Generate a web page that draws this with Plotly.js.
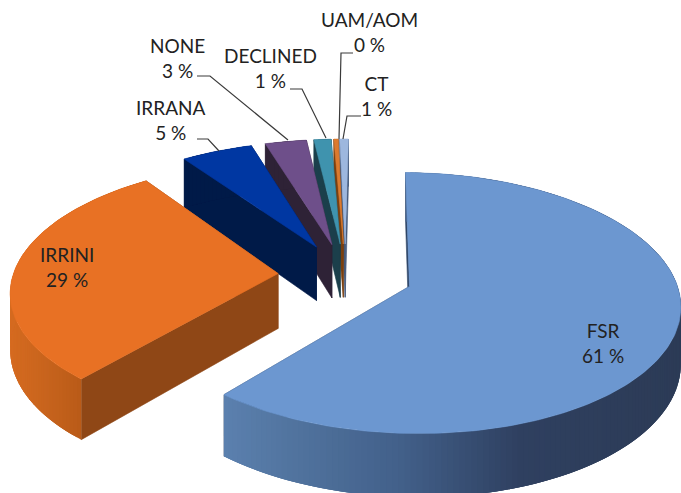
<!DOCTYPE html>
<html>
<head>
<meta charset="utf-8">
<script src="https://cdn.plot.ly/plotly-3.0.1.min.js"></script>
<style>html,body{margin:0;padding:0;background:#fff}#chart{width:681px;height:493px}</style>
</head>
<body>
<div id="chart"></div>
<script>
// Data
const categories = ["FSR", "IRRINI", "IRRANA", "NONE", "DECLINED", "UAM/AOM", "CT"];
const shares = [61, 29, 5, 2.9, 1.2, 0.3, 0.6];

// Style
const topColors = ["#6C97D0", "#E87124", "#0037A2", "#6E4F8A", "#3F93AE", "#DB7A2F", "#9DB7DE"];
const sideColors = ["#2F4668", "#8F4716", "#001A48", "#2E2236", "#1B3F4B", "#7A4010", "#44597A"];
const wallStops = {
  0: [[225, [91, 128, 174]], [300, [80, 114, 157]], [400, [66, 96, 138]], [520, [47, 64, 96]], [681, [44, 59, 86]]],
  1: [[9, [214, 107, 32]], [45, [200, 100, 29]], [82, [185, 90, 24]]]
};
const labelPos = [[603, 343], [67, 267], [170, 120], [177, 58], [270, 68], [369, 32], [376, 96]];
const leaders = [
  null, null,
  [[197, 139], [208, 139], [219, 151]],
  [[197, 76], [210, 76], [288, 140]],
  [[290, 89], [302, 89], [326, 138]],
  [[339, 139], [341, 53], [353, 53]],
  [[343, 139], [347, 116], [361, 116]]
];

// Projection of the pie plane onto the picture
const CX = 345.5, CY = 275, A = 265, B = 125.5, K = 0.126, DEPTH = 55, EXPLODE = 0.255;
const ROTATION = 0.8 * Math.PI / 180;
function project(u, v, down) {
  const d = 1 - K * v;
  return [CX + A * u / d, CY + (B * v + (down ? DEPTH : 0)) / d];
}
function dir(a) { return [Math.sin(a), -Math.cos(a)]; }
function stopColor(stops, x) {
  if (x <= stops[0][0]) return stops[0][1];
  for (let i = 1; i < stops.length; i++) {
    if (x <= stops[i][0]) {
      const t = (x - stops[i - 1][0]) / (stops[i][0] - stops[i - 1][0]);
      return stops[i][1].map((c, j) => Math.round(c + (stops[i - 1][1][j] - c) * (1 - t)));
    }
  }
  return stops[stops.length - 1][1];
}
function poly(pts, color, edge) {
  return {
    type: "scatter", mode: "lines", x: pts.map(p => p[0]).concat(pts[0][0]), y: pts.map(p => p[1]).concat(pts[0][1]),
    fill: "toself", fillcolor: color, line: { color: color, width: edge === undefined ? 0.6 : edge },
    hoverinfo: "skip", showlegend: false
  };
}

const total = shares.reduce((a, b) => a + b, 0);
const slices = [];
let cum = 0;
shares.forEach((s, i) => {
  const a0 = ROTATION + cum / total * 2 * Math.PI;
  cum += s;
  slices.push({ i, a0, a1: ROTATION + cum / total * 2 * Math.PI });
});

const traces = [];
// back slices are painted first
slices.slice().reverse().forEach(({ i, a0, a1 }) => {
  const [ex, ey] = dir((a0 + a1) / 2);
  const ox = ex * EXPLODE, oy = ey * EXPLODE;
  const steps = Math.max(3, Math.round((a1 - a0) / 0.02));
  const at = (a, down) => { const [x, y] = dir(a); return project(ox + x, oy + y, down); };
  const apex = project(ox, oy, false), apexD = project(ox, oy, true);

  // radial walls
  traces.push(poly([apex, at(a1, false), at(a1, true), apexD], sideColors[i]));
  traces.push(poly([apex, at(a0, false), at(a0, true), apexD], sideColors[i]));
  // outer wall, in narrow overlapping strips so that it can be shaded without seams
  for (let k = 0; k < steps; k++) {
    const b0 = a0 + (a1 - a0) * k / steps;
    const b1 = a0 + (a1 - a0) * (k + 1) / steps;
    const b2 = a0 + (a1 - a0) * Math.min(steps, k + 3) / steps;
    const mid = at(b0 + (b1 - b0) / 2, false);
    const stops = wallStops[i];
    const col = stops ? "rgb(" + stopColor(stops, mid[0]).join(",") + ")" : sideColors[i];
    const pts = [];
    for (let j = 0; j <= 4; j++) pts.push(at(b0 + (b2 - b0) * j / 4, false));
    for (let j = 4; j >= 0; j--) pts.push(at(b0 + (b2 - b0) * j / 4, true));
    traces.push(poly(pts, col, 0));
  }
  // top face
  const face = [apex];
  for (let k = 0; k <= steps; k++) face.push(at(a0 + (a1 - a0) * k / steps, false));
  traces.push(poly(face, topColors[i]));
});

leaders.forEach(pts => {
  if (!pts) return;
  traces.push({
    type: "scatter", mode: "lines", x: pts.map(p => p[0]), y: pts.map(p => p[1]),
    line: { color: "#3A3A3A", width: 1.2 }, hoverinfo: "skip", showlegend: false
  });
});

const annotations = categories.map((c, i) => ({
  x: labelPos[i][0], y: labelPos[i][1], xref: "x", yref: "y", showarrow: false,
  text: c + "<br>" + Math.round(shares[i]) + " %", align: "center",
  font: { family: "Lato", size: 19, color: "#222222" }
}));

Plotly.newPlot("chart", traces, {
  width: 681, height: 493, margin: { l: 0, r: 0, t: 0, b: 0 },
  paper_bgcolor: "#ffffff", plot_bgcolor: "#ffffff", showlegend: false,
  xaxis: { range: [0, 681], visible: false, fixedrange: true },
  yaxis: { range: [493, 0], visible: false, fixedrange: true },
  annotations
}, { displayModeBar: false });
</script>
</body>
</html>
